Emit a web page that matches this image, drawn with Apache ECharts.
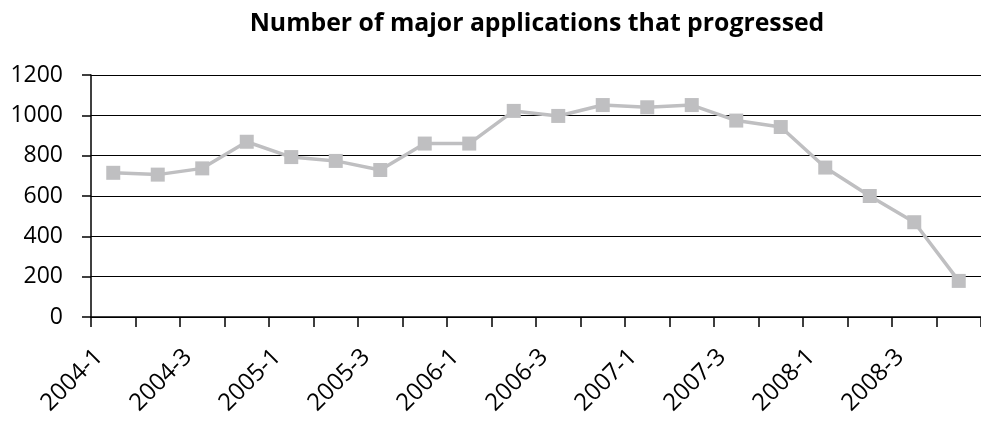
<!DOCTYPE html>
<html><head><meta charset="utf-8">
<script src="https://cdn.jsdelivr.net/npm/echarts@6/dist/echarts.min.js"></script>
<style>html,body{margin:0;padding:0;background:#fff}#c{width:981px;height:423px}</style>
</head><body><div id="c"></div>
<script>
const categories = ['2004-1','2004-2','2004-3','2004-4','2005-1','2005-2','2005-3','2005-4','2006-1','2006-2','2006-3','2006-4','2007-1','2007-2','2007-3','2007-4','2008-1','2008-2','2008-3','2008-4'];
const values = [715,706,737,869,793,774,729,860,860,1022,997,1051,1040,1051,974,942,741,600,470,179];
const yTicks = {min:0, max:1200, interval:200};
const font = '"Open Sans", "Noto Sans", sans-serif';
const chart = echarts.init(document.getElementById('c'));
chart.setOption({
  animation:false,
  title:{text:'Number of major applications that progressed', left:532, textAlign:'center', top:6,
    textStyle:{fontFamily:font, fontWeight:'bold', fontSize:24.8, color:'#000'}},
  grid:{left:91, right:0, top:75, bottom:106},
  xAxis:{type:'category', data:categories, boundaryGap:true,
    axisLine:{lineStyle:{color:'#000', width:1.5}},
    axisTick:{show:true, interval:0, length:10, lineStyle:{color:'#000', width:1.5}},
    axisLabel:{interval:1, rotate:45, fontFamily:font, fontSize:24, color:'#000', margin:22, padding:[0,20,0,0]}},
  yAxis:{type:'value', min:yTicks.min, max:yTicks.max, interval:yTicks.interval,
    axisLine:{show:true, lineStyle:{color:'#000', width:1.5}},
    axisTick:{show:true, length:9, lineStyle:{color:'#000', width:1.5}},
    splitLine:{lineStyle:{color:'#000', width:1.2}},
    axisLabel:{fontFamily:font, fontSize:23, color:'#000', margin:28, formatter:v=>String(v)}},
  series:[{type:'line', data:values, symbol:'rect', symbolSize:14,
    lineStyle:{color:'#bfbfc1', width:3.5}, itemStyle:{color:'#bfbfc1'}}]
});
</script></body></html>
